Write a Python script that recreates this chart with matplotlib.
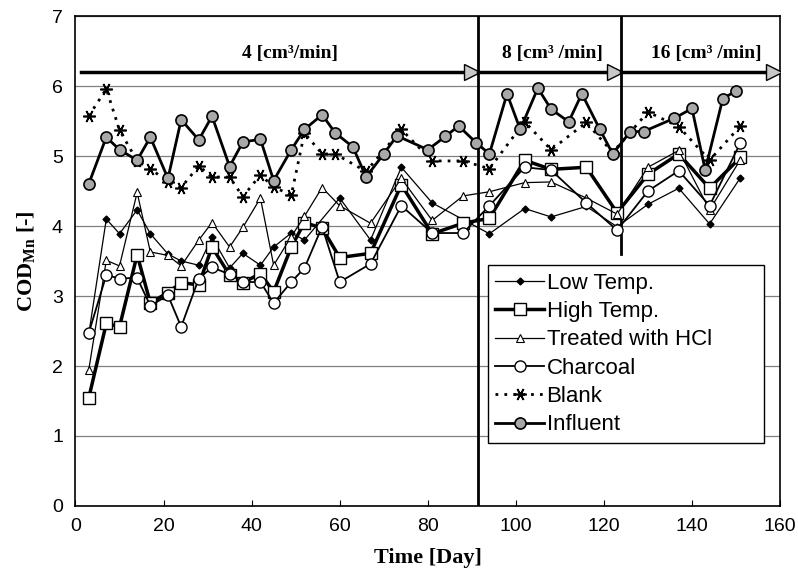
import matplotlib
matplotlib.use("Agg")
import matplotlib.pyplot as plt

# sampling days
days_inf = [3, 7, 10, 14, 17, 21, 24, 28, 31, 35, 38, 42, 45, 49, 52, 56, 59, 63, 66, 70,
            73, 80, 84, 87, 91, 94, 98, 101, 105, 108, 112, 115, 119, 122, 126, 129, 136, 140, 143, 147, 150]
days_blank = [3, 7, 10, 14, 17, 21, 24, 28, 31, 35, 38, 42, 45, 49, 52, 56, 59, 66, 74, 81,
              88, 94, 102, 108, 116, 122, 130, 137, 144, 151]
days_ads = [3, 7, 10, 14, 17, 21, 24, 28, 31, 35, 38, 42, 45, 49, 52, 56, 60, 67, 74, 81,
            88, 94, 102, 108, 116, 123, 130, 137, 144, 151]
days_low = [3, 7, 10, 14, 17, 21, 24, 28, 31, 35, 38, 42, 45, 49, 52, 60, 67, 74, 81,
            94, 102, 108, 116, 123, 130, 137, 144, 151]

# COD_Mn values
influent = [4.60, 5.27, 5.09, 4.94, 5.27, 4.68, 5.52, 5.23, 5.57, 4.85, 5.20, 5.24, 4.65, 5.09, 5.38,
            5.59, 5.33, 5.13, 4.70, 5.03, 5.29, 5.09, 5.28, 5.43, 5.19, 5.03, 5.89, 5.38, 5.97, 5.67,
            5.49, 5.89, 5.39, 5.03, 5.35, 5.35, 5.54, 5.68, 4.80, 5.82, 5.93]
blank = [5.57, 5.96, 5.37, 4.93, 4.82, 4.63, 4.55, 4.86, 4.70, 4.70, 4.42, 4.73, 4.56, 4.44, 5.33,
         5.03, 5.03, 4.78, 5.38, 4.93, 4.93, 4.82, 5.49, 5.09, 5.48, 5.05, 5.63, 5.42, 4.94, 5.43]
high_temp = [1.54, 2.61, 2.56, 3.59, 2.90, 3.05, 3.19, 3.16, 3.70, 3.30, 3.19, 3.32, 3.06, 3.70, 4.05,
             3.97, 3.55, 3.61, 4.59, 3.89, 4.04, 4.11, 4.94, 4.81, 4.84, 4.19, 4.74, 5.03, 4.54, 4.98]
charcoal = [2.47, 3.30, 3.25, 3.26, 2.86, 3.01, 2.56, 3.25, 3.41, 3.31, 3.20, 3.20, 2.90, 3.20, 3.40,
            3.99, 3.20, 3.46, 4.29, 3.90, 3.90, 4.29, 4.84, 4.80, 4.33, 3.94, 4.50, 4.79, 4.29, 5.19]
hcl = [1.94, 3.51, 3.43, 4.48, 3.63, 3.58, 3.43, 3.80, 4.05, 3.70, 3.98, 4.40, 3.44, 3.85, 4.14,
       4.55, 4.29, 4.04, 4.68, 4.08, 4.43, 4.49, 4.62, 4.63, 4.40, 4.17, 4.84, 5.08, 4.23, 4.95]
low_temp = [2.45, 4.10, 3.89, 4.23, 3.89, 3.60, 3.50, 3.44, 3.84, 3.40, 3.61, 3.44, 3.70, 3.90, 3.80,
            4.40, 3.80, 4.84, 4.33, 3.89, 4.25, 4.13, 4.28, 3.99, 4.31, 4.54, 4.03, 4.69]

# flow-rate phases
phase_start = [1.2, 91.3, 123.8]
phase_end = [91.3, 123.8, 160]
phase_labels = ["4 [cm³/min]", "8 [cm³ /min]", "16 [cm³ /min]"]
phase_label_x = [48.8, 108.2, 143.2]

plt.rcParams['font.family'] = ['Liberation Sans', 'DejaVu Sans']
plt.rcParams['mathtext.fontset'] = 'custom'
plt.rcParams['mathtext.rm'] = 'Liberation Serif:bold'
plt.rcParams['mathtext.bf'] = 'Liberation Serif:bold'

fig = plt.figure(figsize=(7.98, 5.74), dpi=100)
ax = fig.add_axes([0.0946, 0.1185, 0.8829, 0.8535])

ax.plot(days_low, low_temp, color='black', lw=0.9, marker='D', ms=3.5, mfc='black', label='Low Temp.', zorder=4)
ax.plot(days_ads, high_temp, color='black', lw=2.5, marker='s', ms=8, mfc='white', mew=1, label='High Temp.', zorder=4)
ax.plot(days_ads, hcl, color='black', lw=0.9, marker='^', ms=5.5, mfc='white', mew=0.8, label='Treated with HCl', zorder=4)
ax.plot(days_ads, charcoal, color='black', lw=1.3, marker='o', ms=8, mfc='white', mew=1, label='Charcoal', zorder=4)
ax.plot(days_blank, blank, color='black', lw=2, ls=(0, (1, 2.2)), marker=(6, 2, 90), ms=9, mew=1.2,
        label='Blank', zorder=4)
ax.plot(days_inf, influent, color='black', lw=2, marker='o', ms=8, mfc='#a8a8a8', mec='black', mew=1.2,
        label='Influent', zorder=5)

# phase separators and arrows
ax.plot([phase_end[0], phase_end[0]], [0, 7], color='black', lw=2, zorder=3)
ax.plot([phase_end[1], phase_end[1]], [3.6, 7], color='black', lw=2, zorder=3)
for s, e, lab, lx in zip(phase_start, phase_end, phase_labels, phase_label_x):
    ax.plot([s, e - 2.2], [6.2, 6.2], color='black', lw=2.5, zorder=3)
    ax.plot(e - 1.3, 6.2, marker='>', ms=11, mfc='#c8c8c8', mec='black', mew=1, zorder=3)
    ax.text(lx, 6.47, lab, ha='center', va='center', fontsize=14, fontweight='bold',
            family=['Liberation Serif', 'DejaVu Serif'])

ax.set_xlim(0, 160)
ax.set_ylim(0, 7)
ax.set_xticks(range(0, 161, 20))
ax.set_yticks(range(0, 8))
ax.yaxis.grid(True, color='#808080', lw=0.9)
ax.set_axisbelow(True)
ax.tick_params(axis='x', direction='in', length=4, labelsize=14, pad=9)
ax.tick_params(axis='y', direction='out', length=0, labelsize=14, pad=9)
for sp in ax.spines.values():
    sp.set_linewidth(1.2)

ax.set_xlabel('Time [Day]', fontsize=16, fontweight='bold', family=['Liberation Serif', 'DejaVu Serif'], labelpad=9)
ax.set_ylabel(r'COD$_{\mathbf{Mn}}$ [-]', fontsize=16, fontweight='bold', family=['Liberation Serif', 'DejaVu Serif'],
              labelpad=10)

leg = ax.legend(loc='upper left', bbox_to_anchor=(0.585, 0.492, 0.392, 0.0), mode='expand',
                fontsize=16, frameon=True, fancybox=False, edgecolor='black', framealpha=1,
                handlelength=2.2, handletextpad=0.1, labelspacing=0.33, borderpad=0.35, numpoints=1,
                borderaxespad=0)
leg.get_frame().set_linewidth(1.0)

fig.savefig('out.png', dpi=100)
